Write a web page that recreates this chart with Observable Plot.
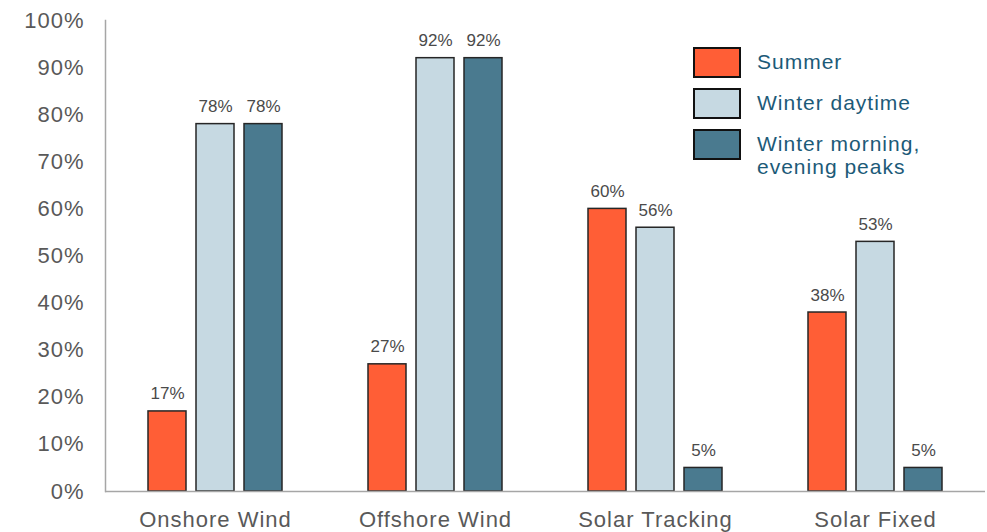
<!DOCTYPE html>
<html>
<head>
<meta charset="utf-8">
<script src="https://cdn.jsdelivr.net/npm/d3@7"></script>
<script src="https://cdn.jsdelivr.net/npm/@observablehq/plot@0.6"></script>
<style>
  html, body { margin: 0; padding: 0; background: #fff; }
  #wrap { position: relative; width: 987px; height: 532px; font-family: "Liberation Sans", Arial, sans-serif; }
  #legend { position: absolute; left: 693px; top: 47px; }
  .item { position: absolute; left: 0; white-space: nowrap; }
  .sw { position: absolute; left: 0; width: 44px; height: 27px; border: 2px solid #111; }
  .lab { position: absolute; left: 64px; font-size: 21px; line-height: 23px; letter-spacing: 1px; color: #1c5a78; }
  g[aria-label="y-axis tick label"] text, g[aria-label="fx-axis tick label"] text { letter-spacing: 1px; }
</style>
</head>
<body>
<div id="wrap"><div id="legend"></div></div>
<script>
const categories = ["Onshore Wind", "Offshore Wind", "Solar Tracking", "Solar Fixed"];
const series = ["Summer", "Winter daytime", "Winter morning, evening peaks"];
const legendLines = [["Summer"], ["Winter daytime"], ["Winter morning,", "evening peaks"]];
const summer = [17, 27, 60, 38];
const winterDaytime = [78, 92, 56, 53];
const winterPeaks = [78, 92, 5, 5];
const yTicks = [0, 10, 20, 30, 40, 50, 60, 70, 80, 90, 100];
const colors = ["#ff5e36", "#c6d9e2", "#4a7a8f"];

const seriesValues = [summer, winterDaytime, winterPeaks];
const data = categories.flatMap((c, i) =>
  series.map((s, j) => ({cat: c, s, v: seriesValues[j][i]}))
);

const chart = Plot.plot({
  width: 987,
  height: 532,
  marginLeft: 105,
  marginRight: 2,
  marginTop: 20,
  marginBottom: 41,
  style: {fontFamily: "Liberation Sans, Arial, sans-serif", overflow: "visible"},
  fx: {domain: categories, padding: 0, label: null},
  x: {domain: series, paddingInner: 0.204, paddingOuter: 0.847, axis: null},
  y: {domain: [0, 100], label: null},
  color: {domain: series, range: colors},
  marks: [
    Plot.axisY({ticks: yTicks, tickSize: 0, tickPadding: 21, tickFormat: d => d + "%", fontSize: 22, color: "#595959", label: null}),
    Plot.axisFx({anchor: "bottom", tickSize: 0, tickPadding: 20, fontSize: 22, color: "#595959", label: null}),
    Plot.barY(data, {fx: "cat", x: "s", y: "v", fill: "s", stroke: "#262626", strokeWidth: 1.5}),
    Plot.text(data, {fx: "cat", x: "s", y: "v", text: d => d.v + "%", lineAnchor: "bottom", dy: -12, fontSize: 17, fill: "#4a4a4a"}),
    Plot.ruleY([0], {stroke: "#a6a6a6", strokeWidth: 1.5}),
    Plot.frame({anchor: "left", facetAnchor: "left", stroke: "#a6a6a6", strokeWidth: 1.5})
  ]
});
document.getElementById("wrap").prepend(chart);

const legend = document.getElementById("legend");
const swTops = [0, 41, 82];
series.forEach((s, i) => {
  const item = document.createElement("div");
  item.className = "item";
  item.style.top = swTops[i] + "px";
  const sw = document.createElement("div");
  sw.className = "sw";
  sw.style.background = colors[i];
  item.appendChild(sw);
  const lab = document.createElement("div");
  lab.className = "lab";
  lab.style.top = "3px";
  lab.innerHTML = legendLines[i].join("<br>");
  item.appendChild(lab);
  legend.appendChild(item);
});
</script>
</body>
</html>
